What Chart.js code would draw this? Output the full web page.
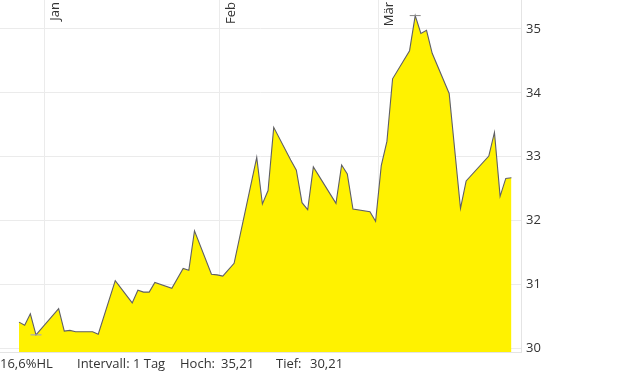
<!DOCTYPE html>
<html>
<head>
<meta charset="utf-8">
<script src="https://cdn.jsdelivr.net/npm/chart.js@4.4.1/dist/chart.umd.min.js"></script>
<style>
  body { margin: 0; background: #fff; font-family: 'Open Sans', sans-serif; }
  #wrap { position: relative; width: 620px; height: 372px; }
  #footer { position: absolute; left: 0; top: 354px; width: 620px; height: 18px; font-size: 13px; line-height: 18px; color: #333; white-space: pre; }
  #footer span { position: absolute; top: 0; }
</style>
</head>
<body>
<div id="wrap">
  <canvas id="kurs" width="620" height="372"></canvas>
  <div id="footer">
    <span id="spanne" style="left:0px"></span>
    <span style="left:77px">Intervall: 1 Tag</span>
    <span style="left:180px">Hoch:</span>
    <span id="hoch" style="left:221px"></span>
    <span style="left:276px">Tief:</span>
    <span id="tief" style="left:310px"></span>
  </div>
</div>
<script>
// Handelstage als Tage ab 1. Januar (negativ = Dezember)
const tage = [-5, -4, -3, -2, 2, 3, 4, 5, 8, 9, 12, 15, 16, 17, 18, 19, 22, 24, 25, 26,
    29, 30, 31, 33, 37, 38, 39, 40, 43, 44, 45, 46, 47, 51, 52, 53, 54, 57, 58, 59,
    60, 61, 64, 65, 66, 67, 68, 71, 73, 74, 78, 79, 80, 81, 82];
const kurse = [30.41, 30.36, 30.54, 30.21, 30.62, 30.27, 30.28, 30.26, 30.26, 30.22, 31.06, 30.71, 30.91, 30.88, 30.88, 31.03, 30.94, 31.25, 31.22, 31.84,
    31.16, 31.15, 31.13, 31.33, 32.99, 32.26, 32.47, 33.46, 32.95, 32.79, 32.28, 32.17, 32.84, 32.27, 32.87, 32.73, 32.18, 32.14, 31.99, 32.86,
    33.24, 34.22, 34.66, 35.21, 34.93, 34.98, 34.62, 33.99, 32.19, 32.62, 33.01, 33.38, 32.38, 32.66, 32.67];
const monatTage = [0, 31, 59];
const monate = ['Jan', 'Feb', 'Mär'];
const yTicks = [30, 31, 32, 33, 34, 35];

const punkte = tage.map((t, i) => ({ x: t + 0.5, y: kurse[i] }));
const hoch = Math.max(...kurse);
const tief = Math.min(...kurse);
const iHoch = kurse.indexOf(hoch);
const iTief = kurse.indexOf(tief);

const fmt = v => v.toFixed(2).replace('.', ',');
document.getElementById('spanne').textContent = ((hoch - tief) / tief * 100).toFixed(1).replace('.', ',') + '%HL';
document.getElementById('hoch').textContent = fmt(hoch);
document.getElementById('tief').textContent = fmt(tief);

const monatsLabels = {
    id: 'monatsLabels',
    afterDraw(chart) {
        const { ctx, scales: { x } } = chart;
        ctx.save();
        ctx.font = '13px "Open Sans"';
        ctx.fillStyle = '#333';
        ctx.textAlign = 'right';
        monatTage.forEach((t, i) => {
            const px = x.getPixelForValue(t);
            ctx.save();
            ctx.translate(px + 15, 2);
            ctx.rotate(-Math.PI / 2);
            ctx.fillText(monate[i], 0, 0);
            ctx.restore();
        });
        ctx.restore();
    }
};

new Chart(document.getElementById('kurs'), {
    type: 'line',
    data: {
        datasets: [
            {
                data: [
                    { x: punkte[iHoch].x, y: hoch },
                    { x: punkte[iTief].x, y: tief }
                ],
                showLine: false,
                pointStyle: 'line',
                pointRadius: 5.5,
                pointBorderWidth: 1,
                pointBorderColor: ['#888888', '#9a9ad0'],
                order: 0
            },
            {
                data: punkte,
                borderColor: '#5f5f66',
                borderWidth: 1.1,
                backgroundColor: '#fff200',
                fill: 'start',
                pointRadius: 0,
                tension: 0,
                order: 1
            }
        ]
    },
    options: {
        responsive: false,
        animation: false,
        layout: { autoPadding: false, padding: { left: 0, right: 0, top: 0, bottom: 20 } },
        scales: {
            x: {
                type: 'linear',
                min: -7.86,
                max: 84.19,
                afterBuildTicks: scale => {
                    scale.ticks = monatTage.map(v => ({ value: v }));
                },
                ticks: { display: false },
                grid: { color: '#ebebeb', drawTicks: false },
                border: { color: '#e4e4e4' }
            },
            y: {
                position: 'right',
                min: 29.942,
                max: 35.454,
                afterBuildTicks: scale => {
                    scale.ticks = yTicks.map(v => ({ value: v }));
                },
                afterFit: scale => {
                    scale.width = 99;
                    scale.paddingTop = 0;
                    scale.paddingBottom = 0;
                },
                ticks: {
                    padding: 5,
                    color: '#333',
                    font: { family: 'Open Sans', size: 13 }
                },
                grid: { color: '#ebebeb', drawTicks: false },
                border: { color: '#e4e4e4' }
            }
        },
        plugins: {
            legend: { display: false },
            tooltip: { enabled: false }
        }
    },
    plugins: [monatsLabels]
});
</script>
</body>
</html>
